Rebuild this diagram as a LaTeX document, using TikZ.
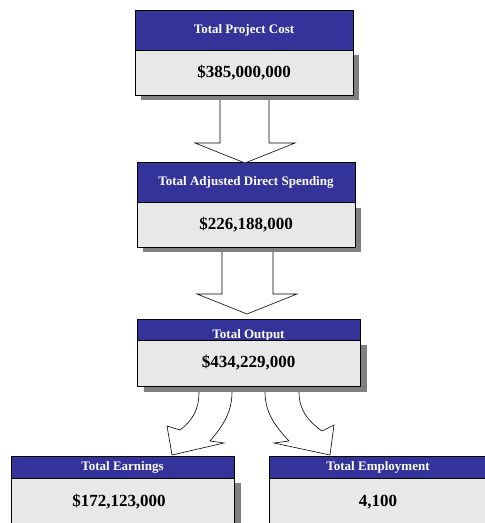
\documentclass[tikz,border=0pt]{standalone}
\usepackage{fontspec}
\setmainfont{Liberation Serif}
\definecolor{hdrblue}{HTML}{333399}
\definecolor{bodygray}{HTML}{E8E8E8}
\definecolor{shadowgray}{HTML}{808080}
\begin{document}
\begin{tikzpicture}[x=1pt,y=-1pt,
  hdr/.style={draw=black,fill=hdrblue,inner sep=0pt,outer sep=0pt},
  hdrtext/.style={text=white,font=\bfseries\fontsize{13}{14}\selectfont,inner sep=0pt},
  bodybox/.style={draw=black,fill=bodygray,inner sep=0pt,outer sep=0pt},
  bodytext/.style={font=\bfseries\fontsize{17}{19}\selectfont,inner sep=0pt},
  shade/.style={fill=shadowgray,draw=none},
  blockarrow/.style={draw=black,fill=white,line width=0.6pt,line join=miter}]
\useasboundingbox (0,0) rectangle (485,523);
\clip (0,0) rectangle (485,523);
% ---------- box 1
\fill[shade] (141,55) rectangle (359,100);
\node[hdr,minimum width=218pt,minimum height=40pt] (h1) at (244,30) {};
\node[hdrtext] (t1) at (h1.center) {Total Project Cost};
\node[bodybox,minimum width=218pt,minimum height=45pt] (b1) at (244,72.5) {};
\node[bodytext] (v1) at (b1.center) {\$385,000,000};
% ---------- box 2
\fill[shade] (143,208) rectangle (361,252);
\node[hdr,minimum width=218pt,minimum height=40pt] (h2) at (246,182) {};
\node[hdrtext] (t2) at (h2.center) {Total Adjusted Direct Spending};
\node[bodybox,minimum width=218pt,minimum height=45pt] (b2) at (246,224.5) {};
\node[bodytext] (v2) at (b2.center) {\$226,188,000};
% ---------- box 3
\fill[shade] (144,345) rectangle (367,392);
\node[hdr,minimum width=223pt,minimum height=21pt] (h3) at (248.5,329.5) {};
\node[hdrtext] (t3) at (248.5,335) {Total Output};
\node[bodybox,minimum width=223pt,minimum height=46pt] (b3) at (248.5,363) {};
\node[bodytext] (v3) at (b3.center) {\$434,229,000};
% ---------- bottom left
\fill[shade] (17,483) rectangle (241,545);
\node[hdr,minimum width=223pt,minimum height=22pt] (h4) at (122.5,467) {};
\node[hdrtext] (t4) at (h4.center) {Total Earnings};
\node[bodybox,minimum width=223pt,minimum height=62pt,anchor=north] (b4) at (122.5,478) {};
\node[bodytext] (v4) at (119,502) {\$172,123,000};
% ---------- bottom right
\fill[shade] (275,483) rectangle (500,545);
\node[hdr,minimum width=224pt,minimum height=22pt,anchor=north west] (h5) at (269,456) {};
\node[hdrtext] (t5) at (378,467) {Total Employment};
\node[bodybox,minimum width=224pt,minimum height=62pt,anchor=north west] (b5) at (269,478) {};
\node[bodytext] (v5) at (378,502) {4,100};
% ---------- straight block arrows
\draw[blockarrow] (220,100) -- (220,143) -- (195,143) -- (245,163) -- (295,143) -- (269,143) -- (269,100);
\draw[blockarrow] (222,252) -- (222,294) -- (197,294) -- (247,314) -- (297,294) -- (273,294) -- (273,252);
% ---------- curved block arrows
\draw[blockarrow] (199,392) .. controls (199,410) and (192,421) .. (180,430)
  -- (167,426) -- (172,455) -- (224,443) -- (210,441)
  .. controls (221,428) and (232,414) .. (232,392);
\draw[blockarrow] (265,392) .. controls (265,414) and (277,428) .. (289,441)
  -- (274,443) -- (330,455) -- (334,425) -- (322,431)
  .. controls (308,421) and (299,410) .. (299,392);
\end{tikzpicture}
\end{document}
